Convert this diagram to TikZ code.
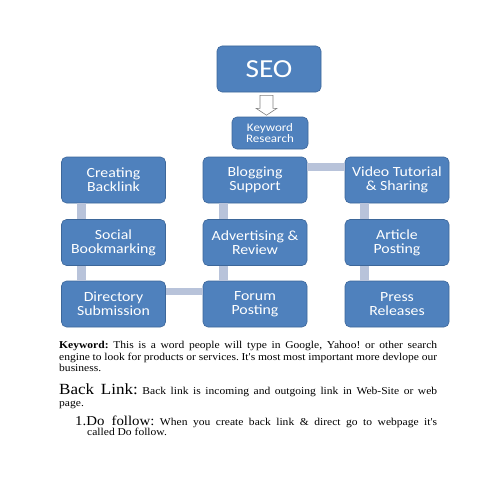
\documentclass[tikz,border=0pt]{standalone}
\usepackage{fontspec}
\setmainfont{Liberation Serif}
\newfontfamily\boxfont[FakeStretch=1.13]{Carlito}
\newfontfamily\bodyfont[FakeStretch=1.1]{Liberation Serif}
\usetikzlibrary{calc}
\definecolor{seoblue}{HTML}{4F81BD}
\definecolor{seoedge}{HTML}{3D679A}
\definecolor{seolink}{HTML}{B8C3DA}
\frenchspacing

\begin{document}
\begin{tikzpicture}[x=1pt, y=-1pt,
  box/.style={draw=seoedge, fill=seoblue, line width=0.6pt, rounded corners=5pt,
    text=white, align=center, inner sep=0pt, minimum width=104pt, minimum height=46pt,
    font=\boxfont\fontsize{14}{14}\selectfont},
  link/.style={draw=seolink, line width=9pt},
  para/.style={anchor=base west, inner sep=0pt, font=\bodyfont\fontsize{10.5}{12}\selectfont}]
  \useasboundingbox[fill=white] (0,0) rectangle (495,495);

  % Top of the chart
  \node[box, minimum width=104pt, minimum height=46pt,
    font=\boxfont\fontsize{26}{26}\selectfont] (seo) at (269,69) {SEO};
  \node[box, minimum width=76pt, minimum height=32pt,
    font=\boxfont\fontsize{11.5}{11.5}\selectfont] (kr) at (270,133) {Keyword\\Research};

  \draw[gray, fill=white, line width=0.6pt]
    ($(seo.south)+(-9,3)$) -- ($(seo.south)+(4,3)$) -- ($(seo.south)+(4,16)$)
    -- ($(seo.south)+(8,16)$) -- ($(kr.north)+(-3.5,-1.5)$)
    -- ($(seo.south)+(-13,16)$) -- ($(seo.south)+(-9,16)$) -- cycle;

  % Three columns
  \node[box] (cb) at (113.5,180) {Creating\\Backlink};
  \node[box] (sb) at (113.5,242.5) {Social\\Bookmarking};
  \node[box] (ds) at (113.5,304) {Directory\\Submission};

  \node[box] (bs) at (255,180) {Blogging\\Support};
  \node[box] (ar) at (255,242.5) {Advertising \&\\Review};
  \node[box] (fp) at (255,304) {Forum\\Posting};

  \node[box] (vt) at (397,180) {Video Tutorial\\\& Sharing};
  \node[box] (ap) at (397,242.5) {Article\\Posting};
  \node[box] (pr) at (397,304) {Press\\Releases};

  % Connectors
  \draw[link] ([xshift=20.5pt]cb.south west) -- ([xshift=20.5pt]sb.north west);
  \draw[link] ([xshift=20.5pt]sb.south west) -- ([xshift=20.5pt]ds.north west);
  \draw[link] ([xshift=20.5pt]bs.south west) -- ([xshift=20.5pt]ar.north west);
  \draw[link] ([xshift=20.5pt]ar.south west) -- ([xshift=20.5pt]fp.north west);
  \draw[link] ([xshift=20pt]vt.south west) -- ([xshift=20pt]ap.north west);
  \draw[link] ([xshift=20pt]ap.south west) -- ([xshift=20pt]pr.north west);
  \draw[link, line width=8pt] ([yshift=-10pt]bs.north east) -- ([yshift=-10pt]vt.north west);
  \draw[link, line width=7pt] ([yshift=-10.5pt]ds.north east) -- ([yshift=-10.5pt]fp.north west);

  % Text below
  \node[para] (kw1) at (59,348) {\makebox[378pt][s]{\textbf{Keyword:} This is a word people will type in Google, Yahoo! or other search}};
  \node[para] (kw2) at (59,360) {\makebox[378pt][s]{engine to look for products or services. It's most most important more devlope our}};
  \node[para] (kw3) at (59,371.5) {business.};

  \node[para] (bl1) at (59,394) {\makebox[378pt][s]{{\fontsize{15.5}{15.5}\selectfont Back Link:} Back link is incoming and outgoing link in Web-Site or web}};
  \node[para] (bl2) at (59,406) {page.};

  \node[para] (df1) at (75,425) {\makebox[362pt][s]{{\fontsize{13.5}{13.5}\selectfont 1.Do follow:} When you create back link \& direct go to webpage it's}};
  \node[para] (df2) at (87,435.5) {called Do follow.};
\end{tikzpicture}
\end{document}
